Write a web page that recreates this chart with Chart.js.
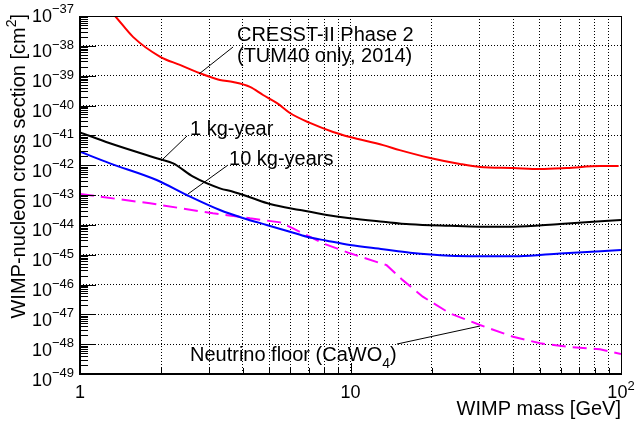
<!DOCTYPE html>
<html>
<head>
<meta charset="utf-8">
<script src="https://cdn.jsdelivr.net/npm/chart.js@4.4.0/dist/chart.umd.min.js"></script>
<style>
  html, body { margin: 0; padding: 0; background: #fff; }
  canvas { display: block; }
</style>
</head>
<body>
<canvas id="limitCanvas" width="636" height="425"></canvas>
<script>
// WIMP mass [GeV] vs. cross section [cm^2]
const cresstMass  = [1.29, 1.347, 1.57, 1.98, 2.34, 2.78, 3.29, 3.68, 4.25, 4.75, 5.35, 5.97, 7.08, 8.62, 9.96, 13.2, 15.2, 19.7, 25.4, 30.1, 39.9, 50.2, 63.1, 83.6, 98];
const cresstLimit = [1.5e-37, 1.0e-37, 2.0e-38, 4.3e-39, 2.3e-39, 1.2e-39, 7.2e-40, 6.1e-40, 4.2e-40, 2.25e-40, 1.2e-40, 5.6e-41, 2.6e-41, 1.3e-41, 8.8e-42, 4.7e-42, 3.2e-42, 1.75e-42, 1.1e-42, 8.7e-43, 8.0e-43, 7.4e-43, 8.0e-43, 9.3e-43, 9.3e-43];

const mass1kg  = [1, 1.29, 1.98, 2.21, 2.62, 3.29, 3.68, 4.25, 5.04, 6.51, 8.17, 9.96, 13.2, 16.6, 23.3, 30, 40, 59.5, 100];
const limit1kg = [1.26e-41, 5.4e-42, 1.57e-42, 1.15e-42, 4.1e-43, 1.67e-43, 1.29e-43, 8.4e-44, 5.0e-44, 3.14e-44, 2.14e-44, 1.65e-44, 1.27e-44, 1.05e-44, 9.3e-45, 8.7e-45, 8.65e-45, 1.07e-44, 1.45e-44];

const mass10kg  = [1, 1.29, 1.92, 2.48, 3.29, 4.0, 4.9, 5.97, 6.89, 8.17, 9.96, 13.2, 16.6, 23.3, 30, 42, 59.5, 100];
const limit10kg = [2.82e-42, 1.15e-42, 3.18e-43, 1.0e-43, 3.14e-44, 1.7e-44, 9.9e-45, 5.9e-45, 4.0e-45, 2.94e-45, 2.1e-45, 1.52e-45, 1.16e-45, 9.2e-46, 8.9e-46, 8.9e-46, 1.1e-45, 1.43e-45];

const nuMass  = [1, 1.815, 3.10, 3.9, 4.25, 5.49, 6.13, 7.91, 9.96, 13.6, 15.6, 18.5, 23.3, 30.1, 39.9, 50.2, 63.1, 83.6, 100];
const nuFloor = [1.08e-43, 5.26e-44, 2.43e-44, 1.87e-44, 1.65e-44, 1.21e-44, 7.6e-45, 2.4e-45, 1.11e-45, 4.45e-46, 1.4e-46, 3.9e-47, 1.08e-47, 4.4e-48, 1.77e-48, 1.07e-48, 8.2e-49, 6.7e-49, 4.7e-49];

// axis ranges and labels
const xRange = [1, 100];
const yExponents = [-49, -48, -47, -46, -45, -44, -43, -42, -41, -40, -39, -38, -37];
const xLabels = [
  { value: 1, base: "1", sup: "" },
  { value: 10, base: "10", sup: "" },
  { value: 100, base: "10", sup: "2" }
];
const xTitle = "WIMP mass [GeV]";
const yTitle = ["WIMP-nucleon cross section [cm", "2", "]"];

// callouts: text anchor and pointer ends in data coordinates
const callouts = [
  { lines: ["CRESST-II Phase 2", "(TUM40 only, 2014)"], at: [3.805, 1.45e-38], from: [2.754, 1.14e-39], to: [3.68, 9.14e-39] },
  { lines: ["1 kg-year"], at: [2.55, 1.02e-41], from: [2.01, 1.49e-42], to: [2.486, 9.5e-42] },
  { lines: ["10 kg-years"], at: [3.555, 1.01e-42], from: [2.507, 1.08e-43], to: [3.525, 1.01e-42] },
  { lines: ["Neutrino floor (CaWO", "4", ")"], sub: true, at: [2.55, 2.72e-49], from: [14.86, 1.01e-48], to: [30.1, 4.05e-48] }
];

const FONT = '"Liberation Sans", Arial, Helvetica, sans-serif';

function toPoints(xs, ys) {
  return xs.map((x, i) => ({ x: x, y: ys[i] }));
}

function decadeValues(lo, hi) {
  const out = [];
  for (let d = lo; d < hi; d *= 10) {
    for (let k = 1; k <= 9; k++) out.push(k * d);
  }
  out.push(hi);
  return out;
}

// ROOT-like frame: inward ticks, exponent labels, titles and callouts
const rootAxes = {
  id: "rootAxes",
  afterDatasetsDraw(chart) {
    const ctx = chart.ctx;
    const a = chart.chartArea;
    const xs = chart.scales.x;
    const ys = chart.scales.y;
    const crisp = v => Math.round(v) + 0.5;

    ctx.save();
    ctx.strokeStyle = "#000";
    ctx.fillStyle = "#000";

    // frame
    ctx.lineWidth = 1;
    ctx.beginPath();
    ctx.moveTo(a.left, crisp(a.top));
    ctx.lineTo(a.right, crisp(a.top));
    ctx.moveTo(crisp(a.right), a.top);
    ctx.lineTo(crisp(a.right), a.bottom);
    ctx.stroke();
    ctx.lineWidth = 2;
    ctx.beginPath();
    ctx.moveTo(Math.round(a.left), a.top);
    ctx.lineTo(Math.round(a.left), Math.round(a.bottom));
    ctx.lineTo(a.right + 1, Math.round(a.bottom));
    ctx.stroke();

    // y ticks
    ctx.lineWidth = 1;
    ctx.beginPath();
    for (let e = yExponents[0]; e < yExponents[yExponents.length - 1]; e++) {
      for (let k = 1; k <= 9; k++) {
        const py = crisp(ys.getPixelForValue(k * Math.pow(10, e)));
        const len = k === 1 ? 16 : 8;
        ctx.moveTo(a.left, py);
        ctx.lineTo(a.left + len, py);
      }
    }
    // x ticks
    decadeValues(xRange[0], xRange[1]).forEach(v => {
      const px = crisp(xs.getPixelForValue(v));
      const major = Math.abs(Math.log10(v) - Math.round(Math.log10(v))) < 1e-9;
      const len = major ? 11 : 6;
      ctx.moveTo(px, a.bottom);
      ctx.lineTo(px, a.bottom - len);
    });
    ctx.stroke();

    // y tick labels 10^n
    ctx.textBaseline = "alphabetic";
    yExponents.forEach(e => {
      const py = ys.getPixelForValue(Math.pow(10, e));
      const sup = "\u2212" + Math.abs(e);
      ctx.font = "18px " + FONT;
      const wb = ctx.measureText("10").width;
      ctx.font = "13px " + FONT;
      const ws = ctx.measureText(sup).width;
      const right = a.left - 6;
      const shift = e === yExponents[yExponents.length - 1] ? -6 : 0;
      ctx.textAlign = "left";
      ctx.font = "18px " + FONT;
      ctx.fillText("10", right - ws - wb, py + 11.5 + shift);
      ctx.font = "13px " + FONT;
      ctx.fillText(sup, right - ws, py + 3 + shift);
    });

    // x tick labels
    xLabels.forEach(l => {
      const px = xs.getPixelForValue(l.value);
      ctx.font = "18px " + FONT;
      const wb = ctx.measureText(l.base).width;
      ctx.font = "13px " + FONT;
      const ws = l.sup ? ctx.measureText(l.sup).width : 0;
      const left = px - (wb + ws) / 2;
      ctx.textAlign = "left";
      ctx.font = "18px " + FONT;
      ctx.fillText(l.base, left, a.bottom + 24);
      if (l.sup) {
        ctx.font = "13px " + FONT;
        ctx.fillText(l.sup, left + wb, a.bottom + 16);
      }
    });

    // axis titles
    ctx.font = "20px " + FONT;
    ctx.textAlign = "right";
    ctx.fillText(xTitle, a.right, a.bottom + 41);

    ctx.save();
    ctx.translate(25, a.top - 2);
    ctx.rotate(-Math.PI / 2);
    ctx.textAlign = "left";
    ctx.font = "20px " + FONT;
    const w0 = ctx.measureText(yTitle[0]).width;
    const w2 = ctx.measureText(yTitle[2]).width;
    ctx.font = "14px " + FONT;
    const w1 = ctx.measureText(yTitle[1]).width;
    let tx = -(w0 + w1 + w2);
    ctx.font = "20px " + FONT;
    ctx.fillText(yTitle[0], tx, 0);
    ctx.font = "14px " + FONT;
    ctx.fillText(yTitle[1], tx + w0, -9);
    ctx.font = "20px " + FONT;
    ctx.fillText(yTitle[2], tx + w0 + w1, 0);
    ctx.restore();

    // callouts
    ctx.lineWidth = 1;
    callouts.forEach(c => {
      ctx.beginPath();
      ctx.moveTo(xs.getPixelForValue(c.from[0]), ys.getPixelForValue(c.from[1]));
      ctx.lineTo(xs.getPixelForValue(c.to[0]), ys.getPixelForValue(c.to[1]));
      ctx.stroke();

      const tx = xs.getPixelForValue(c.at[0]);
      const ty = ys.getPixelForValue(c.at[1]);
      ctx.textAlign = "left";
      if (c.sub) {
        ctx.font = "20px " + FONT;
        const w0 = ctx.measureText(c.lines[0]).width;
        ctx.fillText(c.lines[0], tx, ty);
        ctx.font = "14px " + FONT;
        const w1 = ctx.measureText(c.lines[1]).width;
        ctx.fillText(c.lines[1], tx + w0, ty + 7);
        ctx.font = "20px " + FONT;
        ctx.fillText(c.lines[2], tx + w0 + w1, ty);
      } else {
        ctx.font = "20px " + FONT;
        c.lines.forEach((t, i) => ctx.fillText(t, tx, ty + i * 21));
      }
    });

    ctx.restore();
  }
};

const gridStyle = { color: "#000", lineWidth: 1, drawTicks: false };
const smooth = { tension: 0.4, cubicInterpolationMode: "monotone" };

new Chart(document.getElementById("limitCanvas"), {
  type: "line",
  data: {
    datasets: [
      { data: toPoints(cresstMass, cresstLimit), borderColor: "#ff0000", borderWidth: 2, ...smooth },
      { data: toPoints(mass1kg, limit1kg), borderColor: "#000000", borderWidth: 2, ...smooth },
      { data: toPoints(mass10kg, limit10kg), borderColor: "#0000ff", borderWidth: 2, ...smooth },
      { data: toPoints(nuMass, nuFloor), borderColor: "#ff00ff", borderWidth: 2, borderDash: [14, 7] }
    ]
  },
  options: {
    responsive: false,
    animation: false,
    parsing: false,
    layout: { padding: { left: 80, right: 15, top: 16, bottom: 51 } },
    elements: { point: { radius: 0 }, line: { tension: 0, fill: false } },
    plugins: { legend: { display: false }, tooltip: { enabled: false } },
    scales: {
      x: {
        type: "logarithmic",
        min: xRange[0],
        max: xRange[1],
        afterBuildTicks: s => { s.ticks = decadeValues(xRange[0], xRange[1]).map(v => ({ value: v })); },
        ticks: { display: false },
        grid: gridStyle,
        border: { display: false, dash: [1, 2] }
      },
      y: {
        type: "logarithmic",
        min: Math.pow(10, yExponents[0]),
        max: Math.pow(10, yExponents[yExponents.length - 1]),
        afterBuildTicks: s => { s.ticks = yExponents.map(e => ({ value: Math.pow(10, e) })); },
        ticks: { display: false },
        grid: gridStyle,
        border: { display: false, dash: [1, 2] }
      }
    }
  },
  plugins: [rootAxes]
});
</script>
</body>
</html>
